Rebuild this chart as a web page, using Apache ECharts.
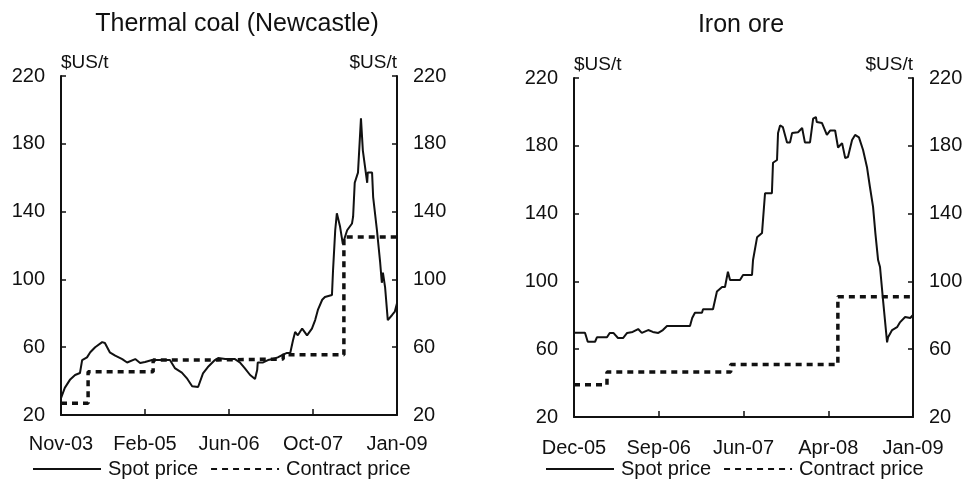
<!DOCTYPE html>
<html>
<head>
<meta charset="utf-8">
<script src="https://cdn.jsdelivr.net/npm/echarts@6/dist/echarts.min.js"></script>
<style>
html,body{margin:0;padding:0;background:#fff;}
#chart{width:967px;height:480px;}
</style>
</head>
<body>
<div id="chart"></div>
<script>
// ---- data (x = months since first tick) ----
const coalTicks = ['Nov-03', 'Feb-05', 'Jun-06', 'Oct-07', 'Jan-09'];
const ironTicks = ['Dec-05', 'Sep-06', 'Jun-07', 'Apr-08', 'Jan-09'];
const yMin = 20, yMax = 220, yStep = 40;

const coalSpot = [
  [0,30],[0.7,36],[1.7,41],[2.6,43.6],[3.5,44.8],[3.9,52.4],[4.8,54],[5.4,57],[6.3,60],
  [7.6,63],[8.1,62.5],[9.0,57],[10.0,55],[11.3,53],[12.2,51],[13.7,53],[14.6,50.7],
  [15.5,51.3],[16.8,52.4],[20.1,52.4],[21.0,47.7],[22.3,45],[23.2,41.8],[24.2,37],
  [25.3,36.5],[26.2,44.6],[27.1,48.3],[28.4,52.4],[29.0,53.6],[30.3,53],[32.1,53],
  [33.0,51],[33.9,47.7],[34.9,43.6],[35.8,41.2],[36.2,46.5],[36.3,51],[37.3,51],
  [38.2,52.4],[39.1,53],[40.0,54],[40.8,55.3],[41.7,56.6],[42.3,56.6],[42.8,64],
  [43.2,69],[43.7,67],[44.5,71],[45.4,67],[46.3,71],[46.9,76],[47.4,82],[48.2,88],
  [48.7,89.6],[50.0,90.8],[50.2,105.5],[50.6,129],[50.9,139],[51.5,131],[52.0,121],
  [52.8,129],[53.7,133],[53.9,137],[54.2,157],[54.8,163],[55.35,195],[55.7,176],
  [56.5,157],[56.6,163],[57.4,163],[57.6,148.6],[58.3,129],[58.9,109.7],[59.2,98],
  [59.4,104],[59.8,95.5],[60.3,76],[61.1,79],[61.6,81],[62,86]
];
const coalContract = [[0,27],[5,45.5],[17,52.5],[29,53],[41,55.5],[52.2,125],[62,125]];

const ironSpot = [
  [0,69.7],[1.2,69.7],[1.5,64.4],[2.3,64.4],[2.5,67],[3.6,67],[3.9,69.6],[4.3,69.6],
  [4.8,66.6],[5.35,66.6],[5.8,69.6],[6.4,70.2],[7.0,71.9],[7.4,69.6],[8.1,71.3],
  [8.6,70.2],[9.2,69.6],[9.7,71.3],[10.15,73.7],[12.66,73.7],[12.9,78.4],[13.2,81.5],
  [13.97,81.5],[14.08,83.6],[15.17,83.6],[15.6,94],[16.16,96.7],[16.48,96.7],
  [16.8,105.7],[17.03,100.8],[18.12,100.8],[18.45,103.8],[19.43,103.8],[19.54,112.6],
  [19.98,126],[20.52,128.5],[20.85,152],[21.6,152],[21.72,170],[22.16,171.6],
  [22.27,187.5],[22.49,192],[22.8,191],[23.25,182],[23.58,182],[23.8,187.5],[24.45,188],
  [24.9,190.5],[25.2,182],[25.76,182],[26.1,196],[26.4,197],[26.5,194],[27.07,193.4],
  [27.6,186.4],[27.95,189],[28.5,189],[28.82,179],[29.26,181.6],[29.6,172.8],[29.9,173.4],
  [30.35,183.4],[30.68,186.4],[31.1,185],[31.55,177.5],[31.99,167],[32.3,155.7],
  [32.64,144],[32.9,128],[33.19,112.6],[33.4,108.5],[33.73,89],[34.17,64],[34.28,67],
  [34.72,71.3],[35.26,73],[35.6,76],[36.14,79],[36.7,78.4],[37,80.2]
];
const ironContract = [[0,39],[3.6,46.5],[17.1,51],[28.8,91],[37,91]];

// ---- styling ----
const FONT = '"Liberation Sans", Arial, sans-serif';
const INK = '#111';

function xAxisFor(grid, max, ticks, margin) {
  const step = max / (ticks.length - 1);
  return {
    type: 'value', gridIndex: grid, min: 0, max: max, interval: step,
    axisLine: { show: true, lineStyle: { color: INK, width: 2 } },
    axisTick: { show: true, inside: true, length: 6, lineStyle: { color: INK, width: 1.5 } },
    axisLabel: {
      margin: margin, fontSize: 20, color: INK, fontFamily: FONT,
      showMinLabel: true, showMaxLabel: true,
      formatter: v => ticks[Math.round(v / step)] || ''
    },
    splitLine: { show: false }
  };
}
function yAxisFor(grid, pos) {
  return {
    type: 'value', gridIndex: grid, position: pos, min: yMin, max: yMax, interval: yStep,
    name: '$US/t', nameLocation: 'end', nameGap: 4,
    nameTextStyle: { fontSize: 19, color: INK, fontFamily: FONT, align: pos === 'left' ? 'left' : 'right' },
    axisLine: { show: true, lineStyle: { color: INK, width: 2 } },
    axisTick: { show: true, inside: true, length: 5, lineStyle: { color: INK, width: 1.5 } },
    axisLabel: { margin: 16, fontSize: 20, color: INK, fontFamily: FONT },
    splitLine: { show: false }
  };
}
function legendAt(left) {
  return {
    left: left, top: 459, padding: 0, itemWidth: 68, itemHeight: 14, itemGap: 12,
    itemStyle: { color: 'rgba(0,0,0,0)', borderWidth: 0, opacity: 0 },
    textStyle: { fontSize: 20, color: INK, fontFamily: FONT, padding: [0, 0, 0, 2] },
    data: ['Spot price', 'Contract price'], selectedMode: false
  };
}
function spotSeries(x, y, data) {
  return {
    name: 'Spot price', type: 'line', xAxisIndex: x, yAxisIndex: y, data: data,
    showSymbol: false, symbol: 'none', animation: false,
    lineStyle: { color: INK, width: 2 }, itemStyle: { color: INK }
  };
}
function contractSeries(x, y, data) {
  return {
    name: 'Contract price', type: 'line', xAxisIndex: x, yAxisIndex: y, data: data,
    step: 'end', showSymbol: false, symbol: 'none', animation: false,
    lineStyle: { color: INK, width: 3.5, type: [6, 5] }, itemStyle: { color: INK }, z: 1
  };
}

const chart = echarts.init(document.getElementById('chart'), null, { renderer: 'canvas' });
chart.setOption({
  backgroundColor: '#fff',
  animation: false,
  title: [
    { text: 'Thermal coal (Newcastle)', left: 237, top: 12, textAlign: 'center', padding: 0,
      textStyle: { fontSize: 25, fontWeight: 'normal', color: INK, fontFamily: FONT } },
    { text: 'Iron ore', left: 741, top: 13, textAlign: 'center', padding: 0,
      textStyle: { fontSize: 25, fontWeight: 'normal', color: INK, fontFamily: FONT } }
  ],
  legend: [legendAt(32), legendAt(545)],
  grid: [
    { left: 61, right: 570, top: 76, bottom: 65 },
    { left: 574, right: 54, top: 78, bottom: 63 }
  ],
  xAxis: [xAxisFor(0, 62, coalTicks, 19), xAxisFor(1, 37, ironTicks, 21)],
  yAxis: [yAxisFor(0, 'left'), yAxisFor(0, 'right'), yAxisFor(1, 'left'), yAxisFor(1, 'right')],
  series: [
    spotSeries(0, 0, coalSpot), contractSeries(0, 0, coalContract),
    spotSeries(1, 2, ironSpot), contractSeries(1, 2, ironContract)
  ]
});
</script>
</body>
</html>
